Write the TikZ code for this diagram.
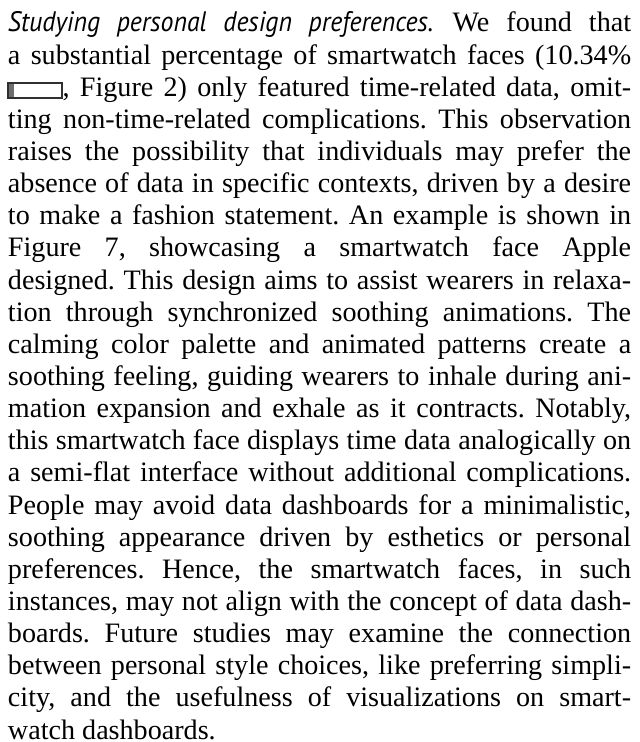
\documentclass[tikz,border=0pt]{standalone}
\usepackage{fontspec}
\setmainfont{Liberation Serif}
\newfontfamily\headfont{PT Sans}[FakeStretch=0.92]
\definecolor{bardark}{HTML}{6E6E6E}
\definecolor{barline}{HTML}{303030}
\tikzset{
  paragraph/.style={anchor=base west, inner sep=0pt, outer sep=0pt, text width=199.4pt, align=justify,
    font=\fontsize{9}{10.285}\selectfont},
  barframe/.style={draw=barline, line width=0.35pt, fill=white},
  barfill/.style={fill=bardark}
}
\begin{document}
\begin{tikzpicture}
\useasboundingbox (0,0) rectangle (204.8pt,-237.44pt);
\node[paragraph] (para) at (2.56pt,-10.24pt) {\frenchspacing\hyphenpenalty=10000\tolerance=10000\emergencystretch=0pt
{\headfont\itshape Studying personal design preferences.}\hspace{6.2pt}We found that\linebreak
a substantial percentage of smartwatch faces (10.34\%\linebreak
\hspace*{17.5pt}, Figure 2) only featured time-related data, omit-\linebreak
ting non-time-related complications. This observation\linebreak
raises the possibility that individuals may prefer the\linebreak
absence of data in specific contexts, driven by a desire\linebreak
to make a fashion statement. An example is shown in\linebreak
Figure 7, showcasing a smartwatch face Apple\linebreak
designed. This design aims to assist wearers in relaxa-\linebreak
tion through synchronized soothing animations. The\linebreak
calming color palette and animated patterns create a\linebreak
soothing feeling, guiding wearers to inhale during ani-\linebreak
mation expansion and exhale as it contracts. Notably,\linebreak
this smartwatch face displays time data analogically on\linebreak
a semi-flat interface without additional complications.\linebreak
People may avoid data dashboards for a minimalistic,\linebreak
soothing appearance driven by esthetics or personal\linebreak
preferences. Hence, the smartwatch faces, in such\linebreak
instances, may not align with the concept of data dash-\linebreak
boards. Future studies may examine the connection\linebreak
between personal style choices, like preferring simpli-\linebreak
city, and the usefulness of visualizations on smart-\linebreak
watch dashboards.\par};
\draw[barframe] (2.56pt,-26.56pt) rectangle (19.84pt,-31.36pt);
\fill[barfill] (2.74pt,-26.74pt) rectangle (4.48pt,-31.18pt);
\end{tikzpicture}
\end{document}
